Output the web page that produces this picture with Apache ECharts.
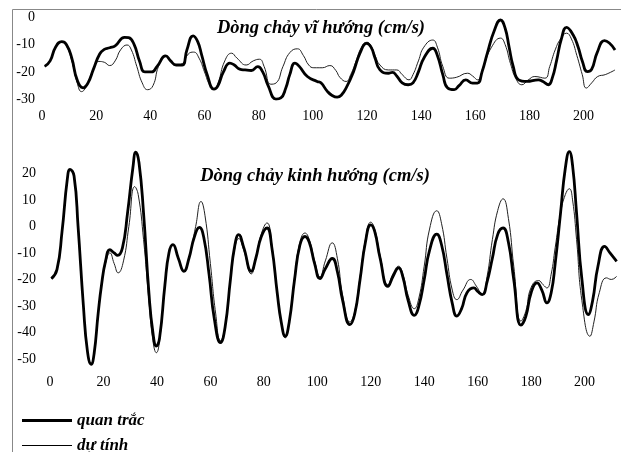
<!DOCTYPE html>
<html>
<head>
<meta charset="utf-8">
<script src="https://cdn.jsdelivr.net/npm/echarts@6/dist/echarts.min.js"></script>
<style>
html,body{margin:0;padding:0;background:#fff;}
#c{width:621px;height:452px;}
</style>
</head>
<body>
<div id="c"></div>
<script>
// ---- Data (hour, cm/s) ----
const seriesNames = ['quan trắc', 'dự tính'];
const titleZonal = 'Dòng chảy vĩ hướng (cm/s)';
const titleMeridional = 'Dòng chảy kinh hướng (cm/s)';
const xTicks = [0, 20, 40, 60, 80, 100, 120, 140, 160, 180, 200];
const zonalTicks = [0, -10, -20, -30];
const meridionalTicks = [20, 10, 0, -10, -20, -30, -40, -50];

const zonalObserved = [[1,-18],[3,-16],[5,-11],[7.3,-9],[9,-10],[11,-15],[13,-23],[15.2,-25.8],[17,-24],[19,-19],[21.3,-13.5],[23,-11.8],[25,-11.2],[27,-10.5],[30.5,-7.4],[32,-7.5],[34,-10],[36,-16],[38,-20],[40.5,-20],[42.5,-18],[45.7,-14.2],[47.5,-16],[49.5,-17.5],[51.8,-17.5],[53.5,-12],[55.8,-6.9],[57.5,-9],[59,-14],[61,-21],[63.5,-26.3],[65,-25],[67,-20],[69.4,-16.8],[71,-17.5],[73,-19],[75,-19.3],[77.3,-19.5],[79.7,-18.1],[81.5,-20],[83.5,-25],[86.4,-29.9],[88.2,-29.5],[90,-26],[91.5,-21],[93.4,-16.8],[95,-18],[98,-21.7],[101.6,-23.5],[103,-24],[105.3,-27],[107,-28.5],[109,-29.2],[110.5,-28.5],[112.6,-25.3],[115,-20],[117.5,-13],[119.9,-9.6],[121.5,-11],[123,-15],[124.8,-19.3],[127.9,-20.5],[129.4,-20.2],[131,-21.5],[133,-24],[135.2,-24.7],[137,-24],[139,-20],[141,-15],[144.3,-11.4],[146,-14],[148,-21],[149.8,-25.9],[152.2,-26.5],[154,-25],[156.5,-22.9],[159,-24.1],[160.8,-24.1],[162.5,-20],[164.5,-13],[167,-5],[169.3,-1.1],[171,-4],[172.5,-11],[174,-18],[176,-22.9],[179,-23.5],[183.3,-22.9],[185,-23.5],[187,-24.7],[188.5,-22],[190,-16],[191.8,-8],[193.7,-3.8],[196.1,-6.5],[198,-11],[199.5,-16],[201.4,-19.9],[203,-19],[205,-13],[207.7,-8.6],[209.5,-9.5],[211.6,-12]];

const zonalPredicted = [[1,-18],[3,-16],[5,-11],[7.3,-9.2],[9,-10.5],[11,-16],[13,-24],[14.6,-27.2],[16.5,-25],[19,-19],[21,-16.2],[23,-16.5],[25,-17.7],[27,-16],[29,-12],[31.4,-10.2],[33,-12],[35,-18],[37,-24],[39,-26.5],[41,-25],[43,-18],[45.3,-14],[47.5,-16],[49.5,-17.5],[51.8,-17],[54,-13.5],[56,-12.8],[58,-15],[60,-20],[62,-25],[63.5,-26.3],[65,-24],[67.5,-16],[70,-13.2],[72,-15],[75.4,-17.5],[78,-16],[80.3,-15.4],[82,-18],[84.5,-24.5],[86.5,-24],[89,-18],[91.5,-13],[94.3,-11.6],[96.5,-14],[98.5,-17.5],[100.4,-18.5],[103.5,-18.5],[106.3,-17.7],[108.5,-19.5],[110,-22],[112.3,-23.5],[114,-21],[116,-16],[118,-11],[120,-9.2],[121.5,-10.5],[123,-14],[124.8,-17.5],[127.9,-19.3],[131,-19.3],[133,-21],[135.5,-22.9],[137,-21],[139,-16],[141,-11],[144.3,-8.4],[146,-11],[148,-18],[150.4,-22.3],[153,-22],[157.1,-20.5],[159,-21.5],[160.8,-22.9],[163,-18],[166,-11],[169.3,-7.7],[171,-10],[173,-17],[175,-22.5],[177.2,-24.7],[179.5,-23],[182,-21.7],[185.7,-22.3],[187.5,-18],[189.5,-12],[191.5,-8],[193.7,-5.9],[195.5,-8],[197.5,-14],[199.5,-21],[201,-25.9],[203,-24],[205.2,-21.7],[208,-21],[211.6,-19.3]];

const meridionalObserved = [[0.5,-19.7],[2.6,-16.3],[4.5,-2],[6.5,18],[7.5,21.5],[9,19],[10.5,0],[12.5,-30],[14,-47],[15.4,-52],[16.5,-48],[18,-33],[19.3,-21.9],[20.8,-13],[22.4,-8.8],[24,-10],[25.3,-10.9],[27.1,-8.1],[29,5],[31,22],[32.1,28],[33.3,24],[35,5],[37,-25],[38.5,-40],[39.8,-45.1],[41,-42],[43,-22],[44.5,-10],[46,-6.9],[48,-12],[50.1,-16.9],[52,-12],[54,-4],[55.9,-0.4],[57.5,-4],[59.5,-18],[61.5,-35],[63.8,-43.8],[65.5,-38],[67.5,-20],[69,-8],[70.6,-3.1],[72.5,-8],[75.3,-16.9],[77,-12],[79,-4],[81.2,-0.6],[83,-8],[85,-25],[86.5,-36],[88,-41.4],[89.5,-36],[91.5,-20],[93.5,-7],[95.4,-3.8],[97,-6],[99,-14],[101,-19.7],[103,-16],[105.6,-12.1],[107.5,-17],[109.5,-28],[112.2,-37],[114,-33],[116,-20],[118,-6],[120,0.6],[121.5,-2],[123.5,-12],[126.4,-22.6],[128.5,-18.5],[130.4,-15.6],[132,-19],[134,-28],[136.3,-33.5],[138,-30],[140,-20],[142,-9],[144.7,-2.9],[146.5,-7],[148.5,-18],[150.5,-29],[152.2,-33.8],[154,-31],[156,-25],[158.6,-23.2],[160,-24.5],[161.7,-25.7],[163.5,-21],[165.5,-12],[167.5,-3],[169.5,-0.6],[171.5,-6],[173.5,-20],[176.2,-37.2],[178,-34],[180,-25],[182.2,-21.3],[184,-24],[185.9,-28.8],[187.5,-25],[189,-14],[191,5],[192.8,22],[194.3,28.2],[195.5,23],[197,5],[199,-20],[201.4,-33.2],[203,-28],[205,-15],[207.5,-7.5],[209.5,-10],[212,-13.2]];

const meridionalPredicted = [[0.5,-19.7],[2.6,-16.3],[4.5,-2],[6.5,18],[7.5,21],[9,18.5],[10.5,0],[12.5,-30],[14,-47],[15.4,-51.5],[16.5,-48],[18,-33],[19.3,-22],[21,-13],[22.4,-10],[24,-14],[25.5,-17.5],[27.5,-13],[29.5,0],[31.7,15],[33,12],[35,-5],[37,-28],[38.5,-43],[39.8,-47.6],[41,-43],[43,-22],[44.5,-10],[46,-7],[48,-12],[50.1,-17],[52,-12],[54.5,0],[56.5,9.4],[58,4],[60,-14],[62,-33],[63.8,-43],[65.5,-38],[67.5,-20],[69,-9],[70.6,-4.6],[72.5,-9],[75.3,-17.9],[77,-12],[79,-3],[81.2,1.3],[83,-7],[85,-25],[86.5,-36],[88,-42],[89.5,-36],[91.5,-19],[93.5,-6],[95.4,-2.5],[97,-5],[99,-13],[101,-19],[103,-13],[105.6,-6.2],[107.5,-12],[109.5,-26],[112.2,-36],[114,-32],[116,-19],[118,-5],[120,1.6],[121.5,-1],[123.5,-11],[126.4,-22],[128.5,-17.5],[130.4,-15],[132,-18],[134,-26],[136.3,-31],[138,-27],[140,-15],[142,-1],[144.7,5.9],[146.5,1],[148.5,-12],[150.5,-24],[152.2,-27.6],[154.5,-24],[157.4,-20],[159.5,-22.5],[161.7,-25.7],[163.5,-19],[165.5,-5],[167.5,6],[169.5,10.4],[171.5,3],[173.5,-15],[176.2,-35.7],[178,-32],[180,-23],[182.8,-20.4],[184.5,-22],[185.9,-23.2],[187.5,-18],[189,-8],[191,5],[192.8,12],[194.3,14.2],[195.5,10],[197,-5],[199,-28],[202,-41.4],[203.5,-36],[205.5,-25],[208.2,-19.4],[210,-20],[212,-18.8]];

// ---- Chart ----
const FONT = '"Liberation Serif", "Times New Roman", serif';
const labelStyle = { color: '#000', fontFamily: FONT, fontSize: 14 };
const thick = { color: '#000', width: 2.8 };
const thin = { color: '#222', width: 1 };
const titleStyle = { fontFamily: FONT, fontSize: 18.5, fontStyle: 'italic', fontWeight: 'bold', color: '#000' };
const legendText = { fontFamily: FONT, fontSize: 17, fontStyle: 'italic', fontWeight: 'bold', color: '#000' };

function xAxisCfg(gridIndex, max, margin) {
  return {
    type: 'value', gridIndex, min: 0, max, interval: 20,
    axisLine: { show: false }, axisTick: { show: false }, splitLine: { show: false },
    axisLabel: Object.assign({}, labelStyle, {
      margin,
      formatter: v => xTicks.includes(v) ? String(v) : ''
    })
  };
}
function yAxisCfg(gridIndex, min, max, ticks, margin) {
  return {
    type: 'value', gridIndex, min, max, interval: 10,
    axisLine: { show: false }, axisTick: { show: false }, splitLine: { show: false },
    axisLabel: Object.assign({}, labelStyle, {
      margin,
      formatter: v => ticks.includes(v) ? String(v) : ''
    })
  };
}
function line(name, data, idx, style) {
  return {
    name, type: 'line', xAxisIndex: idx, yAxisIndex: idx, data,
    smooth: 0.5, showSymbol: false, symbol: 'none',
    lineStyle: style, itemStyle: { color: style.color },
    z: style.width > 2 ? 3 : 2, silent: true, animation: false
  };
}
function legendCfg(name, top, path) {
  return {
    left: 17, top, itemWidth: 50, itemHeight: 14, itemGap: 10,
    data: [{ name, icon: path }],
    itemStyle: { color: '#000' },
    textStyle: Object.assign({ padding: [0, 0, 0, 0] }, legendText),
    selectedMode: false
  };
}

const chart = echarts.init(document.getElementById('c'), null, { renderer: 'canvas' });
chart.setOption({
  backgroundColor: '#fff',
  animation: false,
  title: [
    { text: titleZonal, left: 316, top: 14, textAlign: 'center', textStyle: titleStyle },
    { text: titleMeridional, left: 310, top: 162, textAlign: 'center', textStyle: titleStyle }
  ],
  legend: [
    legendCfg(seriesNames[0], 407, 'path://M0,5.6 L50,5.6 L50,8.4 L0,8.4 Z'),
    legendCfg(seriesNames[1], 432, 'path://M0,6.5 L50,6.5 L50,7.5 L0,7.5 Z')
  ],
  grid: [
    { left: 42, right: 0, top: 17, height: 82.3 },
    { left: 50, right: 0, top: 146.8, height: 238.8 }
  ],
  xAxis: [ xAxisCfg(0, 212.7, 10), xAxisCfg(1, 212.5, -10) ],
  yAxis: [ yAxisCfg(0, -30, 0, zonalTicks, 7), yAxisCfg(1, -60, 30, meridionalTicks, 14) ],
  series: [
    line(seriesNames[1], zonalPredicted, 0, thin),
    line(seriesNames[0], zonalObserved, 0, thick),
    line(seriesNames[1], meridionalPredicted, 1, thin),
    line(seriesNames[0], meridionalObserved, 1, thick)
  ],
  graphic: [
    { type: 'line', shape: { x1: 12.5, y1: 9.5, x2: 621, y2: 9.5 }, style: { stroke: '#888', lineWidth: 1 }, silent: true },
    { type: 'line', shape: { x1: 12.5, y1: 9.5, x2: 12.5, y2: 452 }, style: { stroke: '#888', lineWidth: 1 }, silent: true }
  ]
});
</script>
</body>
</html>
